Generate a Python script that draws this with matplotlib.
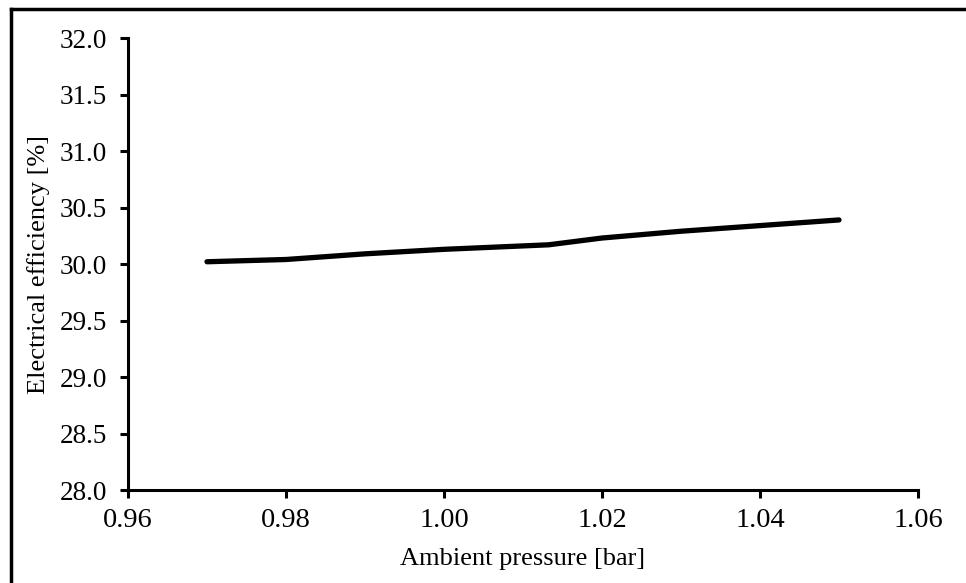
import matplotlib
matplotlib.use('Agg')
import matplotlib.pyplot as plt
from matplotlib.lines import Line2D

# ambient pressure [bar] and electrical efficiency [%]
pressure = [0.97, 0.98, 0.99, 1.00, 1.01325, 1.02, 1.03, 1.04, 1.05]
efficiency = [30.02, 30.04, 30.09, 30.13, 30.17, 30.23, 30.29, 30.34, 30.39]

x_ticks = [0.96, 0.98, 1.00, 1.02, 1.04, 1.06]
y_ticks = [28.0, 28.5, 29.0, 29.5, 30.0, 30.5, 31.0, 31.5, 32.0]

plt.rcParams['font.family'] = ['Liberation Serif', 'DejaVu Serif']

fig = plt.figure(figsize=(9.66, 5.83), dpi=100)
ax = fig.add_axes([0.1325, 0.1595, 0.8178, 0.7753])

ax.plot(pressure, efficiency, color='black', linewidth=3.8, solid_capstyle='round')

ax.set_xlim(0.96, 1.06)
ax.set_ylim(28.0, 32.0)
ax.set_xticks(x_ticks)
ax.set_xticklabels(['%.2f' % t for t in x_ticks])
ax.set_yticks(y_ticks)
ax.set_yticklabels(['%.1f' % t for t in y_ticks])

ax.spines['top'].set_visible(False)
ax.spines['right'].set_visible(False)
ax.spines['left'].set_linewidth(2.2)
ax.spines['bottom'].set_linewidth(2.2)
ax.tick_params(direction='out', length=6, width=2.2)
ax.tick_params(axis='y', labelsize=19.5, pad=9)
ax.tick_params(axis='x', labelsize=20.5, pad=7)

ax.set_xlabel('Ambient pressure [bar]', fontsize=19, labelpad=11)
ax.set_ylabel('Electrical efficiency [%]', fontsize=19, labelpad=7)

# outer frame, only top and left edges show in the crop
fig.add_artist(Line2D([0.0115, 1.0], [0.9846, 0.9846], transform=fig.transFigure,
                      color='black', linewidth=2.5))
fig.add_artist(Line2D([0.0115, 0.0115], [0.0, 0.9846], transform=fig.transFigure,
                      color='black', linewidth=2.5))

fig.savefig('out.png', dpi=100)
